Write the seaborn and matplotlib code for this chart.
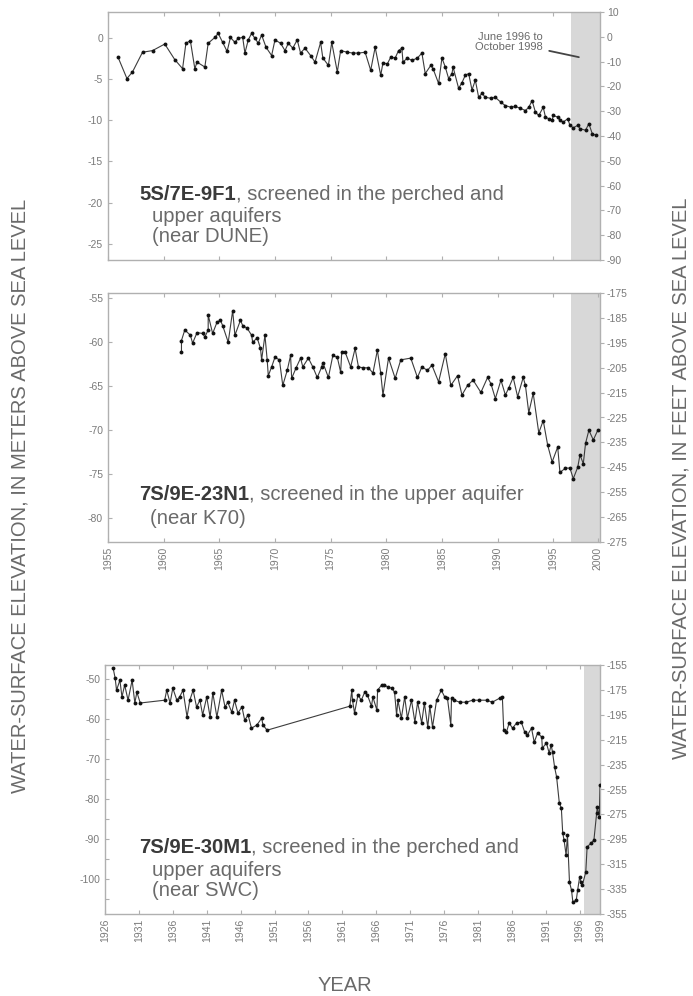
import numpy as np
import pandas as pd
import matplotlib
matplotlib.use('Agg')
import matplotlib.pyplot as plt
from matplotlib.ticker import MultipleLocator
import seaborn as sns

# well 5S/7E-9F1 (near DUNE), meters
dune_year = [1955.9, 1956.7, 1957.2, 1958.1, 1959.0, 1960.1, 1961.0, 1961.7, 1962.0, 1962.4,
             1962.8, 1963.0, 1963.7, 1964.0, 1964.6, 1964.9, 1965.3, 1965.7, 1966.0, 1966.4,
             1966.7, 1967.1, 1967.3, 1967.6, 1967.9, 1968.2, 1968.5, 1968.8, 1969.2, 1969.7,
             1970.0, 1970.5, 1970.9, 1971.2, 1971.6, 1972.0, 1972.3, 1972.7, 1973.2, 1973.6,
             1974.1, 1974.3, 1974.8, 1975.1, 1975.6, 1975.9, 1976.5, 1977.0, 1977.5, 1978.1,
             1978.6, 1979.0, 1979.5, 1979.7, 1980.1, 1980.4, 1980.8, 1981.1, 1981.4, 1981.5,
             1981.9, 1982.3, 1982.8, 1983.2, 1983.5, 1984.0, 1984.2, 1984.7, 1985.0, 1985.3,
             1985.6, 1985.9, 1986.0, 1986.5, 1986.8, 1987.1, 1987.4, 1987.7, 1988.0, 1988.3,
             1988.6, 1988.9, 1989.4, 1989.8, 1990.3, 1990.7, 1991.2, 1991.6, 1992.0, 1992.5,
             1992.8, 1993.1, 1993.4, 1993.7, 1994.1, 1994.3, 1994.6, 1994.9, 1995.0, 1995.4,
             1995.6, 1995.9, 1996.3, 1996.5, 1996.8, 1997.2, 1997.4, 1997.9, 1998.2, 1998.5,
             1998.8]
dune_m = [-2.3, -4.9, -4.1, -1.7, -1.5, -0.7, -2.6, -3.7, -0.6, -0.3,
          -3.7, -2.9, -3.5, -0.6, 0.1, 0.6, -0.5, -1.6, 0.1, -0.5,
          0.0, 0.1, -1.8, -0.2, 0.6, 0.0, -0.6, 0.4, -1.1, -2.1,
          -0.2, -0.6, -1.5, -0.6, -1.2, -0.2, -1.8, -1.2, -2.1, -2.9,
          -0.5, -2.4, -3.3, -0.5, -4.1, -1.5, -1.7, -1.8, -1.8, -1.7,
          -3.9, -1.1, -4.5, -3.0, -3.1, -2.3, -2.4, -1.5, -1.2, -2.9,
          -2.4, -2.7, -2.4, -1.8, -4.3, -3.3, -3.7, -5.5, -2.4, -3.5,
          -4.9, -4.3, -3.5, -6.1, -5.4, -4.5, -4.3, -6.3, -5.1, -7.2,
          -6.7, -7.2, -7.3, -7.2, -7.8, -8.2, -8.4, -8.3, -8.5, -8.8,
          -8.4, -7.6, -9.0, -9.4, -8.4, -9.6, -9.8, -10.0, -9.4, -9.6,
          -10.0, -10.2, -9.8, -10.6, -10.9, -10.6, -11.0, -11.2, -10.4, -11.6,
          -11.8]

# well 7S/9E-23N1 (near K70), meters
k70_year = [1961.6, 1961.6, 1961.9, 1962.4, 1962.6, 1963.0, 1963.5, 1963.7, 1964.0, 1964.0,
            1964.4, 1964.8, 1965.1, 1965.3, 1965.8, 1966.2, 1966.4, 1966.9, 1967.1, 1967.5,
            1967.9, 1968.0, 1968.4, 1968.7, 1968.8, 1969.1, 1969.3, 1969.4, 1969.7, 1970.0,
            1970.4, 1970.7, 1971.1, 1971.4, 1971.5, 1971.9, 1972.3, 1972.5, 1973.0, 1973.4,
            1973.8, 1974.2, 1974.3, 1974.8, 1975.2, 1975.6, 1975.9, 1976.0, 1976.3, 1976.8,
            1977.2, 1977.5, 1977.9, 1978.4, 1978.8, 1979.2, 1979.5, 1979.7, 1980.2, 1980.8,
            1981.3, 1982.2, 1982.8, 1983.2, 1983.7, 1984.1, 1984.7, 1985.3, 1985.8, 1986.4,
            1986.8, 1987.3, 1987.8, 1988.5, 1989.1, 1989.4, 1989.8, 1990.3, 1990.7, 1991.0,
            1991.4, 1991.8, 1992.3, 1992.5, 1992.8, 1993.2, 1993.7, 1994.1, 1994.5, 1994.9,
            1995.4, 1995.6, 1996.1, 1996.5, 1996.8, 1997.2, 1997.4, 1997.7, 1997.9, 1998.2,
            1998.6, 1999.0]
k70_m = [-61.1, -59.8, -58.6, -59.2, -60.1, -58.9, -59.0, -59.4, -58.6, -56.9,
         -59.0, -57.7, -57.5, -58.1, -60.0, -56.4, -59.2, -57.5, -58.1, -58.4,
         -59.2, -60.0, -59.5, -60.7, -62.0, -59.2, -62.0, -63.8, -62.8, -61.7,
         -62.0, -64.9, -63.2, -61.5, -64.1, -62.9, -61.8, -62.8, -61.8, -62.8,
         -64.0, -62.8, -62.3, -64.0, -61.5, -61.7, -63.4, -61.1, -61.1, -62.8,
         -60.7, -62.8, -62.9, -62.9, -63.5, -60.9, -63.5, -66.0, -61.8, -64.1,
         -62.0, -61.8, -64.0, -62.8, -63.2, -62.6, -64.5, -61.3, -64.9, -63.8,
         -66.0, -64.9, -64.3, -65.7, -64.0, -64.7, -66.4, -64.3, -66.0, -65.2,
         -64.0, -66.2, -64.0, -64.9, -68.0, -65.8, -70.3, -68.9, -71.7, -73.6,
         -71.9, -74.8, -74.3, -74.3, -75.5, -74.2, -72.8, -73.8, -71.5, -70.0,
         -71.1, -70.0]

# well 7S/9E-30M1 (near SWC), meters
swc_year = [1927.2, 1927.5, 1927.7, 1928.2, 1928.5, 1928.9, 1929.4, 1930.0, 1930.4, 1930.7,
            1931.2, 1934.8, 1935.1, 1935.6, 1936.0, 1936.6, 1937.0, 1937.5, 1938.1, 1938.5,
            1939.0, 1939.5, 1940.0, 1940.4, 1941.0, 1941.5, 1941.9, 1942.5, 1943.2, 1943.7,
            1944.1, 1944.7, 1945.1, 1945.6, 1946.2, 1946.6, 1947.1, 1947.6, 1948.4, 1949.1,
            1949.3, 1949.9, 1962.1, 1962.4, 1962.5, 1962.8, 1963.3, 1963.8, 1964.3, 1964.7,
            1965.3, 1965.5, 1966.1, 1966.2, 1966.8, 1967.2, 1967.7, 1968.3, 1968.7, 1969.0,
            1969.2, 1969.7, 1970.2, 1970.6, 1971.2, 1971.7, 1972.1, 1972.7, 1973.1, 1973.6,
            1973.9, 1974.3, 1974.9, 1975.6, 1976.1, 1976.5, 1977.0, 1977.1, 1977.5, 1978.3,
            1979.3, 1980.2, 1981.2, 1982.3, 1983.1, 1984.2, 1984.6, 1984.8, 1985.2, 1985.6,
            1986.1, 1986.7, 1987.4, 1987.9, 1988.3, 1988.9, 1989.3, 1989.8, 1990.4, 1990.5,
            1991.1, 1991.5, 1991.8, 1992.0, 1992.3, 1992.6, 1993.0, 1993.3, 1993.5, 1993.7,
            1994.0, 1994.2, 1994.5, 1994.8, 1995.0, 1995.5, 1995.7, 1996.0, 1996.2, 1996.4,
            1996.9, 1997.1, 1997.7, 1998.1, 1998.5, 1998.6, 1998.9, 1999.0]
swc_m = [-47.3, -49.8, -52.8, -50.3, -54.5, -51.5, -55.3, -50.3, -56.0, -53.3,
         -56.0, -55.3, -52.8, -56.0, -52.3, -55.3, -54.5, -52.8, -59.5, -55.3,
         -52.8, -57.0, -55.3, -59.0, -54.5, -59.5, -53.5, -59.5, -52.8, -57.0,
         -55.8, -58.3, -55.3, -58.5, -57.0, -60.3, -59.0, -62.3, -61.5, -59.8,
         -61.5, -62.8, -56.8, -52.8, -55.3, -58.5, -54.0, -55.3, -53.3, -54.0,
         -56.8, -54.5, -57.8, -52.8, -51.5, -51.5, -52.0, -52.3, -53.3, -59.0,
         -55.3, -59.8, -54.5, -59.8, -55.3, -60.8, -55.8, -61.0, -56.0, -62.0,
         -56.8, -62.0, -55.3, -52.8, -54.5, -54.8, -61.5, -54.8, -55.3, -55.8,
         -55.8, -55.3, -55.3, -55.3, -55.8, -54.8, -54.5, -62.8, -63.3, -61.0,
         -62.3, -61.0, -60.8, -63.3, -64.0, -62.3, -65.8, -63.5, -64.5, -67.3,
         -66.0, -68.5, -66.5, -68.3, -72.0, -74.5, -81.0, -82.3, -88.5, -90.3,
         -94.0, -89.0, -100.8, -102.8, -105.8, -105.3, -102.8, -99.5, -100.8, -101.5,
         -98.3, -92.0, -91.0, -90.3, -83.5, -82.0, -84.5, -76.5]

shade_start = 1996.6

mid_xticks = [1955, 1960, 1965, 1970, 1975, 1980, 1985, 1990, 1995, 1999]
mid_xlabels = ['1955', '1960', '1965', '1970', '1975', '1980', '1985', '1990', '1995', '2000']
bot_xticks = [1926, 1931, 1936, 1941, 1946, 1951, 1956, 1961, 1966, 1971, 1976, 1981, 1986, 1991, 1996, 1999]

sns.set_style('white')
plt.rcParams['font.family'] = ['Liberation Sans', 'DejaVu Sans']
plt.rcParams['axes.unicode_minus'] = False

FRAME = '#b0b0b0'
TICKTXT = '#7a7a7a'
DARK = '#3a3a3a'
MID = '#6a6a6a'
W, H = 693, 996
FS = 14.6

fig = plt.figure(figsize=(W / 100, H / 100), dpi=100)
ax1 = fig.add_axes([108 / W, 1 - 260 / H, 492 / W, 248 / H])
ax2 = fig.add_axes([108 / W, 1 - 542 / H, 492 / W, 249 / H])
ax3 = fig.add_axes([105 / W, 1 - 914 / H, 495 / W, 249 / H])


def draw(ax, years, vals, xlim):
    df = pd.DataFrame({'year': years, 'm': vals})
    ax.axvspan(shade_start, xlim[1], color='#d8d8d8', lw=0, zorder=0)
    sns.lineplot(data=df, x='year', y='m', ax=ax, sort=False, estimator=None,
                 color='#3c3c3c', lw=0.8, marker='o', markersize=2.8,
                 markeredgewidth=0, markerfacecolor='#111111', zorder=3)
    ax.set_xlim(*xlim)
    ax.set_xlabel('')
    ax.set_ylabel('')
    for s in ax.spines.values():
        s.set_color(FRAME)
        s.set_linewidth(1.0)
    ax.tick_params(axis='x', which='both', direction='in', top=True, bottom=True,
                   length=3, width=0.8, color=FRAME, labelcolor=TICKTXT, labelsize=7.5)
    ax.tick_params(axis='y', which='both', direction='in', left=True,
                   length=3, width=0.8, color=FRAME, labelcolor=TICKTXT, labelsize=7.5)


def twin(ax, lo, hi, step):
    r = ax.twinx()
    r.set_ylim(lo, hi)
    r.set_yticks(np.arange(lo, hi + 1, step))
    for s in r.spines.values():
        s.set_visible(False)
    r.tick_params(axis='y', direction='out', right=True, length=3, width=0.8,
                  color=FRAME, labelcolor=TICKTXT, labelsize=7.5, pad=2)
    r.grid(False)
    return r


# top panel
draw(ax1, dune_year, dune_m, (1955, 1999.2))
ax1.set_ylim(-27.0, 3.2)
ax1.set_yticks([0, -5, -10, -15, -20, -25])
ax1.set_xticks(mid_xticks[:-1])
ax1.set_xticklabels([])
twin(ax1, -90, 10, 10)
ax1.annotate('June 1996 to\nOctober 1998', xy=(1997.3, -2.3), xytext=(1994.1, -0.5),
             ha='right', va='center', fontsize=8, color=MID, linespacing=1.0,
             arrowprops=dict(arrowstyle='-', color='#444444', lw=1.3, shrinkA=2, shrinkB=0))

# middle panel
draw(ax2, k70_year, k70_m, (1955, 1999.2))
ax2.set_ylim(-82.7, -54.4)
ax2.set_yticks([-55, -60, -65, -70, -75, -80])
ax2.set_xticks(mid_xticks)
ax2.set_xticklabels(mid_xlabels, rotation=90)
twin(ax2, -275, -175, 10)

# bottom panel
draw(ax3, swc_year, swc_m, (1926, 1999))
ax3.set_ylim(-108.75, -46.5)
ax3.yaxis.set_major_locator(MultipleLocator(10))
ax3.yaxis.set_minor_locator(MultipleLocator(5))
ax3.set_yticks([-50, -60, -70, -80, -90, -100])
ax3.set_xticks(bot_xticks)
ax3.set_xticklabels([str(y) for y in bot_xticks], rotation=90)
twin(ax3, -355, -155, 20)


def well_label(x, y, well, rest, lines):
    t = fig.text(x / W, 1 - y / H, well, fontsize=FS, fontweight='bold', color=DARK, va='center')
    fig.add_artist(matplotlib.text.Annotation(rest, xy=(1, 0.5), xycoords=t, va='center',
                                              ha='left', fontsize=FS, color=MID))
    for (lx, ly, txt) in lines:
        fig.text(lx / W, 1 - ly / H, txt, fontsize=FS, color=MID, va='center')


well_label(139, 195, '5S/7E-9F1', ', screened in the perched and',
           [(152, 216, 'upper aquifers'), (152, 236, '(near DUNE)')])
well_label(139, 495, '7S/9E-23N1', ', screened in the upper aquifer',
           [(150, 518, '(near K70)')])
well_label(139, 847, '7S/9E-30M1', ', screened in the perched and',
           [(152, 870, 'upper aquifers'), (152, 890, '(near SWC)')])

fig.text(20 / W, 1 - 496 / H, 'WATER-SURFACE ELEVATION, IN METERS ABOVE SEA LEVEL',
         rotation=90, ha='center', va='center', fontsize=14.5, color=MID)
fig.text(681 / W, 1 - 478 / H, 'WATER-SURFACE ELEVATION, IN FEET ABOVE SEA LEVEL',
         rotation=90, ha='center', va='center', fontsize=14.5, color=MID)
fig.text(345 / W, 1 - 985 / H, 'YEAR', ha='center', va='center', fontsize=14.5, color=MID)

fig.savefig('out.png', dpi=100)
